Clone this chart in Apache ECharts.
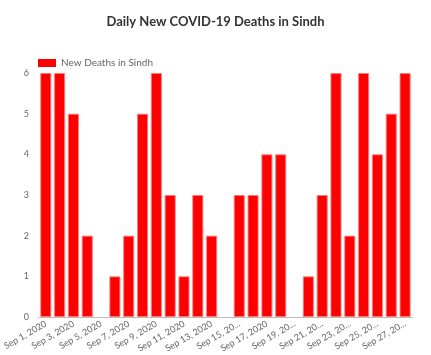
<!DOCTYPE html>
<html><head><meta charset="utf-8">
<script src="https://cdn.jsdelivr.net/npm/echarts@6/dist/echarts.min.js"></script>
<style>html,body{margin:0;padding:0;background:#fff}#c{width:431px;height:355px}</style>
</head><body><div id="c"></div>
<script>
var categories = ["Sep 1, 2020","Sep 2, 2020","Sep 3, 2020","Sep 4, 2020","Sep 5, 2020","Sep 6, 2020","Sep 7, 2020","Sep 8, 2020","Sep 9, 2020","Sep 10, 2020","Sep 11, 2020","Sep 12, 2020","Sep 13, 2020","Sep 14, 2020","Sep 15, 2020","Sep 16, 2020","Sep 17, 2020","Sep 18, 2020","Sep 19, 2020","Sep 20, 2020","Sep 21, 2020","Sep 22, 2020","Sep 23, 2020","Sep 24, 2020","Sep 25, 2020","Sep 26, 2020","Sep 27, 2020"];
var tickLabels = ["Sep 1, 2020","","Sep 3, 2020","","Sep 5, 2020","","Sep 7, 2020","","Sep 9, 2020","","Sep 11, 2020","","Sep 13, 2020","","Sep 15, 20...","","Sep 17, 2020","","Sep 19, 20...","","Sep 21, 20...","","Sep 23, 20...","","Sep 25, 20...","","Sep 27, 20..."];
var deaths = [6,6,5,2,0,1,2,5,6,3,1,3,2,0,3,3,4,4,0,1,3,6,2,6,4,5,6];
var yTicks = [0,1,2,3,4,5,6];

var chart = echarts.init(document.getElementById('c'));
chart.setOption({
  animation:false,
  title:{text:'Daily New COVID-19 Deaths in Sindh',left:'center',top:10,
    textStyle:{fontFamily:'Lato',fontSize:13,fontWeight:'bold',color:'#333'}},
  legend:{left:33,top:53,itemWidth:18,itemHeight:8,itemGap:5,icon:'rect',
    itemStyle:{borderWidth:0},
    textStyle:{fontFamily:'Lato',fontSize:10,color:'#666'},
    data:['New Deaths in Sindh']},
  grid:{left:34,right:19,top:73,bottom:38,containLabel:false},
  xAxis:{type:'category',data:categories,
    axisLine:{lineStyle:{color:'#bbb'}},axisTick:{show:false},
    axisLabel:{interval:0,rotate:30,fontFamily:'Lato',fontSize:9,color:'#666',margin:6,
      formatter:function(v,i){return tickLabels[i];}}},
  yAxis:{type:'value',min:yTicks[0],max:yTicks[yTicks.length-1],interval:1,
    splitLine:{show:false},axisLine:{show:false},axisTick:{show:false},
    axisLabel:{fontFamily:'Lato',fontSize:9,color:'#666',margin:10}},
  series:[{name:'New Deaths in Sindh',type:'bar',barCategoryGap:'20%',
    data:deaths.map(function(v){return v===0?{value:v,itemStyle:{borderWidth:0}}:v;}),
    itemStyle:{color:'#ff0000',borderColor:'rgba(255,120,120,0.9)',borderWidth:1}}]
});
</script></body></html>
